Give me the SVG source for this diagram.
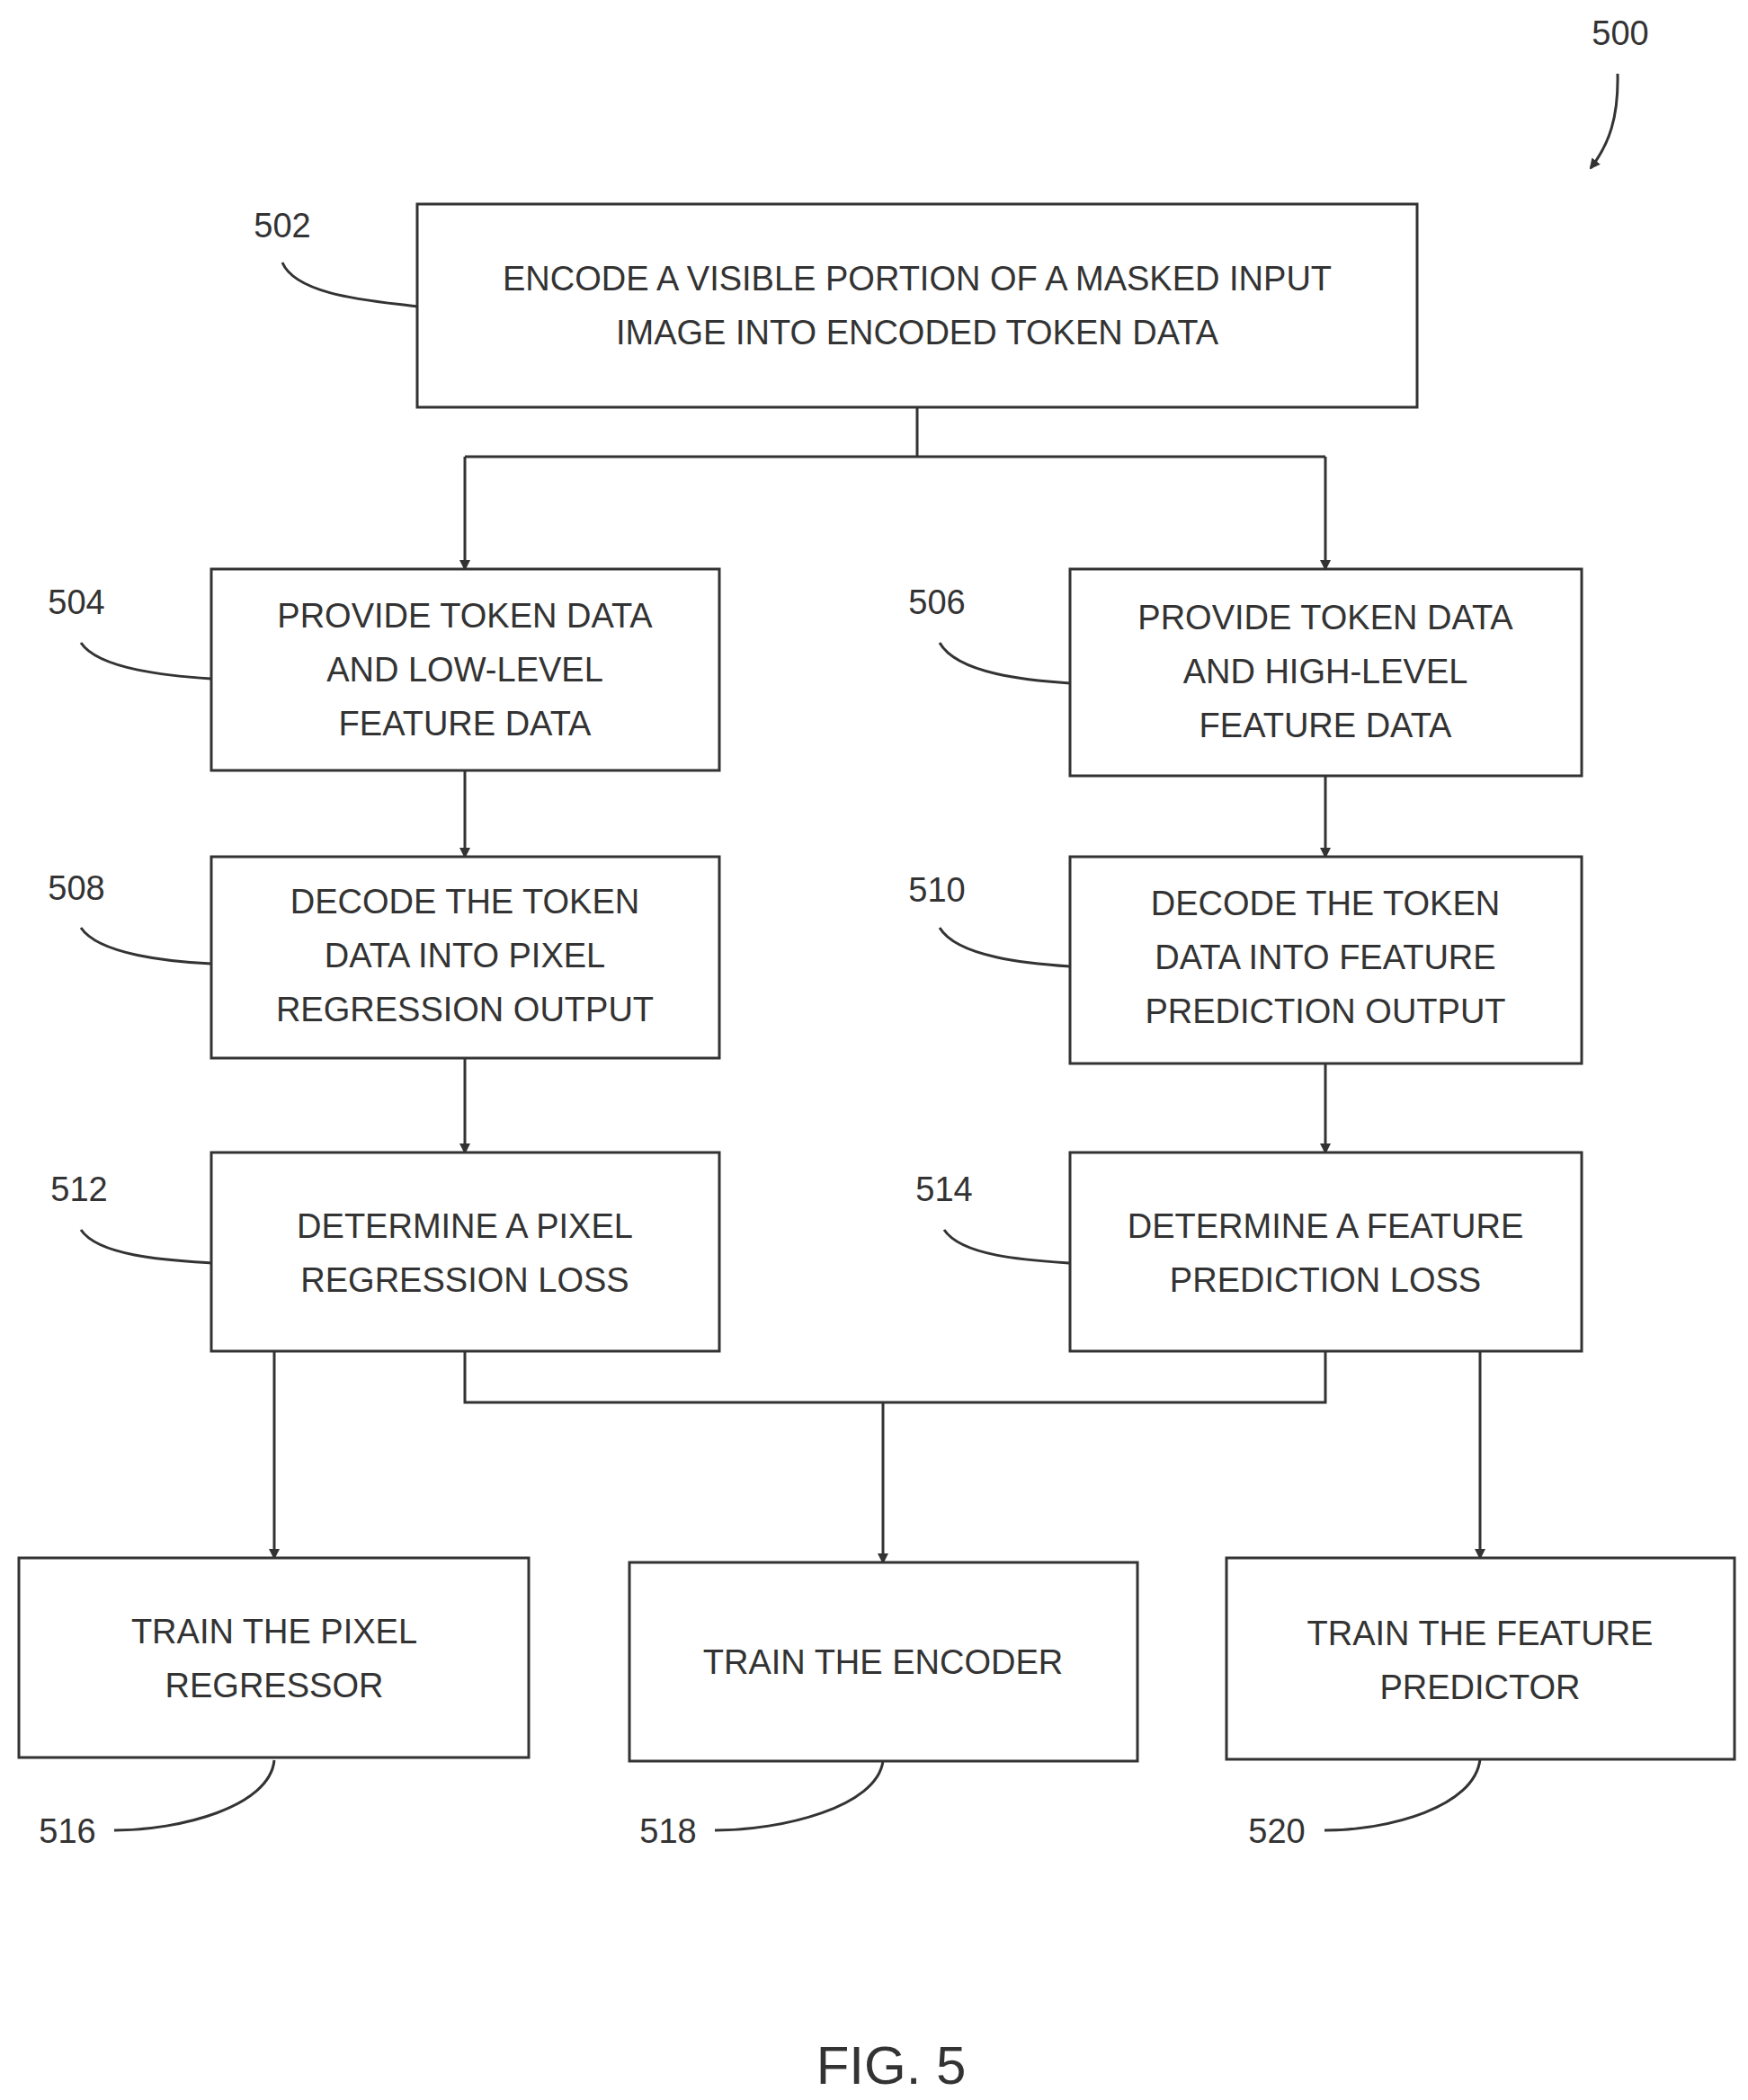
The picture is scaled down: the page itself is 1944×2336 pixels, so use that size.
<svg xmlns="http://www.w3.org/2000/svg" width="1944" height="2336" viewBox="0 0 1944 2336">
<style>
.b{fill:#fff;stroke:#333;stroke-width:3}
.t{font-family:"Liberation Sans",Arial,sans-serif;font-size:38px;fill:#333;text-anchor:middle}
.l{font-family:"Liberation Sans",Arial,sans-serif;font-size:38px;fill:#333;text-anchor:middle}
.c{fill:none;stroke:#333;stroke-width:3}
</style>
<defs><marker id="a" markerWidth="12" markerHeight="12" refX="10" refY="6" orient="auto" markerUnits="userSpaceOnUse"><path d="M0,0 L12,6 L0,12 Z" fill="#333"/></marker></defs>
<rect width="1944" height="2336" fill="#fff"/>
<g id="connectors" class="c">
<path d="M1020,453 V508 M517,508 H1474"/>
<path d="M517,508 V633" marker-end="url(#a)"/>
<path d="M1474,508 V633" marker-end="url(#a)"/>
<path d="M517,857 V953" marker-end="url(#a)"/>
<path d="M1474,863 V953" marker-end="url(#a)"/>
<path d="M517,1177 V1282" marker-end="url(#a)"/>
<path d="M1474,1183 V1282" marker-end="url(#a)"/>
<path d="M305,1503 V1733" marker-end="url(#a)"/>
<path d="M1646,1503 V1733" marker-end="url(#a)"/>
<path d="M517,1503 V1560 H1474 V1503 M982,1560 V1738" marker-end="url(#a)"/>
<path d="M1799,82 C1800,130 1790,160 1769,187" marker-end="url(#a)"/>
<path d="M314,292 C330,330 420,335 464,341"/>
<path d="M90,715 C110,745 190,752 235,755"/>
<path d="M1045,715 C1065,750 1145,757 1190,760"/>
<path d="M90,1032 C110,1062 190,1070 235,1072"/>
<path d="M1045,1032 C1065,1065 1145,1072 1190,1075"/>
<path d="M90,1368 C110,1398 190,1402 235,1405"/>
<path d="M1050,1368 C1070,1398 1145,1402 1190,1405"/>
<path d="M127,2036 C200,2036 300,2010 305,1958"/>
<path d="M795,2036 C870,2036 975,2010 982,1959"/>
<path d="M1473,2036 C1545,2036 1640,2010 1646,1957"/>
</g>
<text class="l" x="1802" y="50">500</text>
<text class="l" x="314" y="264">502</text>
<g id="n502"><rect class="b" x="464" y="227" width="1112" height="226"/><text class="t" x="1020" y="323">ENCODE A VISIBLE PORTION OF A MASKED INPUT</text><text class="t" x="1020" y="383">IMAGE INTO ENCODED TOKEN DATA</text></g>
<g id="n504"><rect class="b" x="235" y="633" width="565" height="224"/><text class="l" x="85" y="683">504</text><text class="t" x="517" y="698">PROVIDE TOKEN DATA</text><text class="t" x="517" y="758">AND LOW-LEVEL</text><text class="t" x="517" y="818">FEATURE DATA</text></g>
<g id="n506"><rect class="b" x="1190" y="633" width="569" height="230"/><text class="l" x="1042" y="683">506</text><text class="t" x="1474" y="700">PROVIDE TOKEN DATA</text><text class="t" x="1474" y="760">AND HIGH-LEVEL</text><text class="t" x="1474" y="820">FEATURE DATA</text></g>
<g id="n508"><rect class="b" x="235" y="953" width="565" height="224"/><text class="l" x="85" y="1001">508</text><text class="t" x="517" y="1016">DECODE THE TOKEN</text><text class="t" x="517" y="1076">DATA INTO PIXEL</text><text class="t" x="517" y="1136">REGRESSION OUTPUT</text></g>
<g id="n510"><rect class="b" x="1190" y="953" width="569" height="230"/><text class="l" x="1042" y="1003">510</text><text class="t" x="1474" y="1018">DECODE THE TOKEN</text><text class="t" x="1474" y="1078">DATA INTO FEATURE</text><text class="t" x="1474" y="1138">PREDICTION OUTPUT</text></g>
<g id="n512"><rect class="b" x="235" y="1282" width="565" height="221"/><text class="l" x="88" y="1336">512</text><text class="t" x="517" y="1377">DETERMINE A PIXEL</text><text class="t" x="517" y="1437">REGRESSION LOSS</text></g>
<g id="n514"><rect class="b" x="1190" y="1282" width="569" height="221"/><text class="l" x="1050" y="1336">514</text><text class="t" x="1474" y="1377">DETERMINE A FEATURE</text><text class="t" x="1474" y="1437">PREDICTION LOSS</text></g>
<g id="n516"><rect class="b" x="21" y="1733" width="567" height="222"/><text class="t" x="305" y="1828">TRAIN THE PIXEL</text><text class="t" x="305" y="1888">REGRESSOR</text><text class="l" x="75" y="2050">516</text></g>
<g id="n518"><rect class="b" x="700" y="1738" width="565" height="221"/><text class="t" x="982" y="1862">TRAIN THE ENCODER</text><text class="l" x="743" y="2050">518</text></g>
<g id="n520"><rect class="b" x="1364" y="1733" width="565" height="224"/><text class="t" x="1646" y="1830">TRAIN THE FEATURE</text><text class="t" x="1646" y="1890">PREDICTOR</text><text class="l" x="1420" y="2050">520</text></g>
<text class="l" x="991" y="2318" style="font-size:60px">FIG. 5</text>
</svg>
